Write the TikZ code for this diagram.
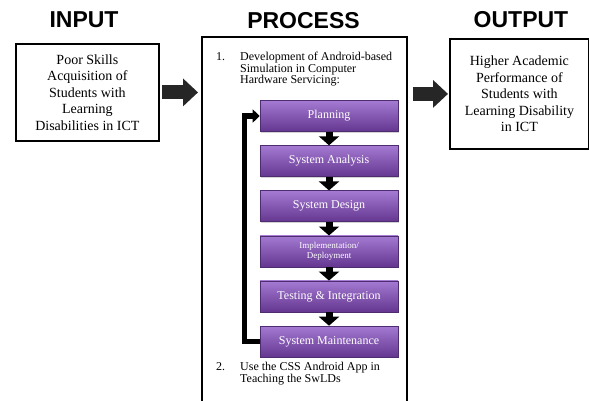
\documentclass[tikz,border=0pt]{standalone}
\usepackage{fontspec}
\setmainfont{Liberation Serif}
\newfontfamily\bodyfont{Liberation Serif}
\newfontfamily\headfont{Liberation Sans}
\usetikzlibrary{arrows.meta,positioning,shadows}
\definecolor{phasetop}{RGB}{164,122,210}
\definecolor{phasebot}{RGB}{100,54,144}
\definecolor{phaseedge}{RGB}{78,44,112}

\begin{document}
\begin{tikzpicture}[x=1pt, y=-1pt,
    title/.style={font=\headfont\bfseries\fontsize{23}{23}\selectfont, anchor=base, inner sep=0pt},
    iobox/.style={rectangle, draw=black, line width=1.8pt, align=center, inner sep=0pt,
        font=\bodyfont\fontsize{14}{16.5}\selectfont, anchor=north west},
    phase/.style={rectangle, draw=phaseedge, line width=0.6pt, top color=phasetop, bottom color=phasebot,
        minimum width=138pt, minimum height=31pt, text=white, align=center,
        font=\bodyfont\fontsize{12}{12}\selectfont,
        drop shadow={opacity=0.35, shadow xshift=1.2pt, shadow yshift=-1.2pt}},
    steptext/.style={align=left, inner sep=0pt, anchor=north west, font=\bodyfont\fontsize{12}{11.5}\selectfont},
    flowarr/.style={line width=7pt, -{Triangle[length=9pt,width=20pt]}},
    looparr/.style={line width=5.5pt, -{Triangle[length=7pt,width=13pt]}},
    bigarr/.style={line width=14pt, black!85, -{Triangle[length=15pt,width=27pt]}},
    node distance=13.5pt
]
\useasboundingbox (0,0) rectangle (589,400);

% input
\node[iobox, minimum width=143pt, minimum height=97pt] (inbox) at (15,43)
    {Poor Skills\\Acquisition of\\Students with\\Learning\\Disabilities in ICT};
\node[title] (intitle) at (84,27) {INPUT};

% process
\node[draw, line width=1.8pt, minimum width=205pt, minimum height=372pt, anchor=north west,
    inner sep=0pt] (proc) at (201,36) {};
\node[title] (proctitle) at (303.5,28) {PROCESS};
\node[steptext] (devnum) at (216,52) {1.};
\node[steptext] (devtext) at (240,52) {Development of Android-based\\Simulation in Computer\\Hardware Servicing:};

\node[phase] (plan) at (329,116) {Planning};
\node[phase, below=of plan] (analysis) {System Analysis};
\node[phase, below=of analysis] (design) {System Design};
\node[phase, below=of design, font=\bodyfont\fontsize{9}{9.5}\selectfont] (impl) {Implementation/\\Deployment};
\node[phase, below=of impl] (testing) {Testing \& Integration};
\node[phase, below=of testing] (maint) {System Maintenance};
\foreach \a/\b in {plan/analysis, analysis/design, design/impl, impl/testing, testing/maint}
    \draw[flowarr] (\a) -- (\b);
\draw[looparr] (maint.west) -- ++(-15,0) |- (plan.west);

\node[steptext] (usenum) at (216,362) {2.};
\node[steptext] (usetext) at (240,362) {Use the CSS Android App in\\Teaching the SwLDs};

% output
\node[iobox, minimum width=139pt, minimum height=110pt] (outbox) at (449,38)
    {Higher Academic\\Performance of\\Students with\\Learning Disability\\in ICT};
\node[title] (outtitle) at (521,27) {OUTPUT};

\draw[bigarr] ([xshift=2pt]inbox.east) -- ([xshift=-3pt]inbox.east -| proc.west);
\draw[bigarr] ([xshift=5pt]proc.east |- outbox.west) -- ([xshift=-1pt]outbox.west);
\end{tikzpicture}
\end{document}
